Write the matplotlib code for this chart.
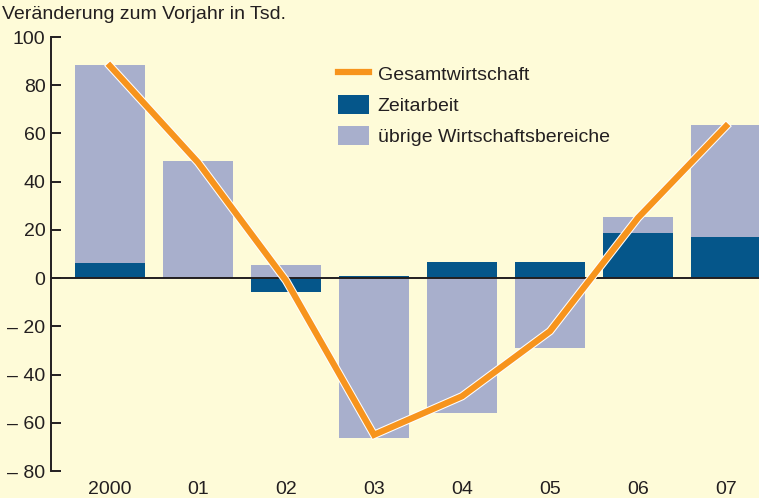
import matplotlib
matplotlib.use('Agg')
import numpy as np
import matplotlib.pyplot as plt
import matplotlib.patheffects as pe
from matplotlib.patches import Patch
from matplotlib.lines import Line2D

# Daten (Veränderung zum Vorjahr in Tsd.)
jahre = ['2000', '01', '02', '03', '04', '05', '06', '07']
zeitarbeit = [6.2, 0.6, -5.6, 0.9, 6.5, 6.5, 18.7, 17.1]
uebrige = [82.0, 47.8, 5.4, -66.3, -55.8, -28.8, 6.6, 46.4]
gesamt = [88, 48, -1, -65, -49, -22, 25, 63]
y_ticks = [100, 80, 60, 40, 20, 0, -20, -40, -60, -80]

bg = '#fefbd8'
c_zeit = '#05568a'
c_uebr = '#a8afcc'
c_ges = '#f7941d'
c_text = '#231f20'
fs = 14

plt.rcParams['font.family'] = ['Liberation Sans', 'DejaVu Sans']

fig = plt.figure(figsize=(7.59, 4.98), dpi=100, facecolor=bg)
ax = fig.add_axes([0.0672, 0.0542, 0.9328, 0.8715], facecolor=bg)

x = np.arange(len(jahre))
w = 0.8
# übrige stapeln auf Zeitarbeit, wenn gleiches Vorzeichen, sonst ab 0
bottoms = [z if np.sign(z) == np.sign(u) else 0 for z, u in zip(zeitarbeit, uebrige)]
ax.bar(x, uebrige, w, bottom=bottoms, color=c_uebr, zorder=2)
ax.bar(x, zeitarbeit, w, color=c_zeit, zorder=2)

ax.axhline(0, color=c_text, lw=1.4, zorder=3)

ax.plot(x, gesamt, color=c_ges, lw=4.5, zorder=4, solid_joinstyle='miter',
        path_effects=[pe.Stroke(linewidth=6.0, foreground='white'), pe.Normal()])

ax.set_xlim(-0.67, 7.375)
ax.set_ylim(-80, 100)
ax.set_yticks(y_ticks)
ax.set_yticklabels([str(t) if t >= 0 else '\u2013 ' + str(-t) for t in y_ticks])
ax.set_xticks(x)
ax.set_xticklabels(jahre)

for s in ['top', 'right', 'bottom']:
    ax.spines[s].set_visible(False)
ax.spines['left'].set_color(c_text)
ax.spines['left'].set_linewidth(1.4)
ax.tick_params(axis='y', direction='in', length=7, width=1.4, color=c_text,
               labelsize=fs, labelcolor=c_text, pad=4)
ax.tick_params(axis='x', length=0, labelsize=fs, labelcolor=c_text, pad=7)

fig.text(0.003, 0.988, 'Veränderung zum Vorjahr in Tsd.', fontsize=fs,
         color=c_text, ha='left', va='top')

handles = [Line2D([0], [0], color=c_ges, lw=4.5),
           Patch(facecolor=c_zeit),
           Patch(facecolor=c_uebr)]
labels = ['Gesamtwirtschaft', 'Zeitarbeit', 'übrige Wirtschaftsbereiche']
fig.legend(handles, labels, loc='upper left', bbox_to_anchor=(0.445, 0.871),
           frameon=False, fontsize=fs, handlelength=1.6, handleheight=1.15,
           handletextpad=0.45, labelspacing=0.55, borderpad=0, borderaxespad=0,
           labelcolor=c_text)

fig.savefig('out.png', dpi=100, facecolor=bg)
